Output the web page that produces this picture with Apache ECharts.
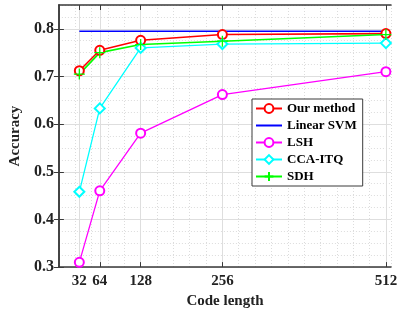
<!DOCTYPE html>
<html>
<head>
<meta charset="utf-8">
<script src="https://cdn.jsdelivr.net/npm/echarts@6/dist/echarts.min.js"></script>
<style>
  html, body { margin: 0; padding: 0; background: #fff; }
  #chart { width: 400px; height: 314px; }
</style>
</head>
<body>
<div id="chart"></div>
<script>
// code lengths (x) and accuracy per method
const codeLengths = [32, 64, 128, 256, 512];
const yTicks = [0.3, 0.4, 0.5, 0.6, 0.7, 0.8];
const ourMethod = [0.712, 0.755, 0.776, 0.788, 0.790];
const linearSVM = [0.795, 0.795, 0.795, 0.795, 0.795];
const lsh = [0.310, 0.460, 0.581, 0.662, 0.710];
const ccaItq = [0.458, 0.633, 0.760, 0.768, 0.770];
const sdh = [0.705, 0.750, 0.767, 0.774, 0.788];

const font = 'Liberation Serif';
const frame = '#3a3a3a';
const pts = arr => codeLengths.map((c, i) => [c, arr[i]]);
const plusSym = 'path://M0,5L10,5M5,0L5,10';
const clear = 'rgba(0,0,0,0)';

const chart = echarts.init(document.getElementById('chart'));

function line(name, data, color, symbol, size, width) {
  return {
    name: name,
    type: 'line',
    xAxisIndex: 1,
    yAxisIndex: 1,
    data: pts(data),
    symbol: symbol,
    symbolSize: size,
    showSymbol: symbol !== 'none',
    lineStyle: { color: color, width: width },
    itemStyle: { color: color, borderColor: color, borderWidth: 1.3 },
    emphasis: { disabled: true },
    animation: false
  };
}

chart.setOption({
  animation: false,
  grid: { left: 50, right: 9, top: 5, bottom: 43 },
  legend: {
    orient: 'vertical',
    left: 252,
    top: 99,
    padding: [3, 6, 3, 3],
    itemGap: 4,
    itemWidth: 26,
    itemHeight: 11,
    backgroundColor: '#fff',
    borderColor: frame,
    borderWidth: 1,
    textStyle: { fontFamily: font, fontWeight: 'bold', fontSize: 13, color: '#000' },
    data: [
      'Our method',
      { name: 'Linear SVM', itemStyle: { color: clear, borderColor: clear, opacity: 0 } },
      'LSH', 'CCA-ITQ', 'SDH'
    ]
  },
  xAxis: [
    {
      // minor grid
      type: 'value', min: 0, max: 520, interval: 25.6, position: 'top',
      axisLine: { show: false }, axisTick: { show: false }, axisLabel: { show: false },
      splitLine: { show: true, lineStyle: { color: '#dcdcdc', type: [1, 2], width: 1 } }
    },
    {
      type: 'value', min: 0, max: 520, position: 'bottom',
      name: 'Code length', nameLocation: 'middle', nameGap: 24,
      nameTextStyle: { fontFamily: font, fontWeight: 'bold', fontSize: 15, color: '#222' },
      axisLine: { show: true, onZero: false, lineStyle: { color: frame, width: 1.5 } },
      axisTick: { show: true, inside: true, length: 5, customValues: codeLengths, lineStyle: { color: frame } },
      axisLabel: { customValues: codeLengths, fontFamily: font, fontWeight: 'bold', fontSize: 15, color: '#222', margin: 7 },
      splitLine: { show: true, lineStyle: { color: '#dedede', width: 1 } }
    },
    {
      type: 'value', min: 0, max: 520, position: 'top',
      axisLine: { show: true, lineStyle: { color: frame, width: 1.5 } },
      axisTick: { show: true, inside: true, length: 5, customValues: codeLengths, lineStyle: { color: frame } },
      axisLabel: { show: false },
      splitLine: { show: false }
    }
  ],
  yAxis: [
    {
      type: 'value', min: 0.3, max: 0.85, interval: 0.025, position: 'right',
      axisLine: { show: false }, axisTick: { show: false }, axisLabel: { show: false },
      splitLine: { show: true, lineStyle: { color: '#dcdcdc', type: [1, 2], width: 1 } }
    },
    {
      type: 'value', min: 0.3, max: 0.85, interval: 0.1, position: 'left',
      name: 'Accuracy', nameLocation: 'middle', nameGap: 35, nameRotate: 90,
      nameTextStyle: { fontFamily: font, fontWeight: 'bold', fontSize: 15, color: '#222' },
      axisLine: { show: true, onZero: false, lineStyle: { color: frame, width: 1.5 } },
      axisTick: { show: true, inside: true, length: 5, customValues: yTicks, lineStyle: { color: frame } },
      axisLabel: { customValues: yTicks, formatter: v => v.toFixed(1), fontFamily: font, fontWeight: 'bold', fontSize: 16, color: '#222', margin: 5 },
      splitLine: { show: true, lineStyle: { color: '#dedede', width: 1 } }
    },
    {
      type: 'value', min: 0.3, max: 0.85, interval: 0.1, position: 'right',
      axisLine: { show: true, lineStyle: { color: frame, width: 1.5 } },
      axisTick: { show: true, inside: true, length: 5, customValues: yTicks, lineStyle: { color: frame } },
      axisLabel: { show: false },
      splitLine: { show: false }
    }
  ],
  series: [
    line('Our method', ourMethod, '#ff0000', 'emptyCircle', 9, 1.6),
    line('Linear SVM', linearSVM, '#0000ff', 'none', 0, 1.4),
    line('LSH', lsh, '#ff00ff', 'emptyCircle', 9, 1.3),
    line('CCA-ITQ', ccaItq, '#00ffff', 'emptyDiamond', 10, 1.3),
    line('SDH', sdh, '#00ff00', plusSym, 11, 1.6)
  ]
});
</script>
</body>
</html>
